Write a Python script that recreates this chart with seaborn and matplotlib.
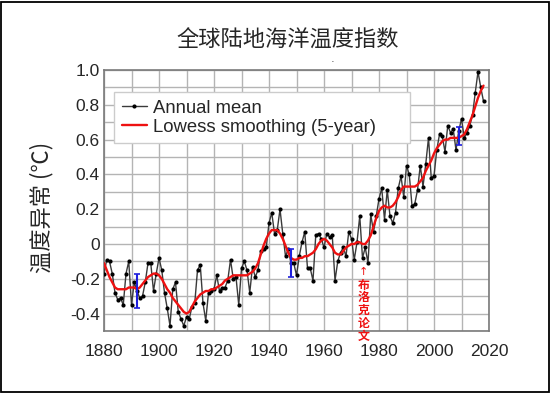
import matplotlib
matplotlib.use("Agg")
import matplotlib.pyplot as plt
import seaborn as sns
import pandas as pd
from matplotlib.ticker import MultipleLocator, FixedLocator
from matplotlib.patches import Rectangle

# ---------------- data ----------------
years = list(range(1880, 2019))
annual_mean = [
    -0.17, -0.09, -0.10, -0.17, -0.28, -0.32, -0.31, -0.35, -0.17, -0.10,   # 1880s
    -0.35, -0.22, -0.27, -0.31, -0.30, -0.22, -0.11, -0.11, -0.27, -0.17,   # 1890s
    -0.08, -0.15, -0.28, -0.37, -0.47, -0.26, -0.22, -0.39, -0.43, -0.47,   # 1900s
    -0.42, -0.43, -0.36, -0.34, -0.15, -0.12, -0.34, -0.44, -0.28, -0.27,   # 1910s
    -0.26, -0.18, -0.27, -0.25, -0.25, -0.21, -0.09, -0.20, -0.19, -0.35,   # 1920s
    -0.14, -0.10, -0.15, -0.28, -0.13, -0.19, -0.15, -0.04, -0.03, -0.02,   # 1930s
    0.12, 0.18, 0.06, 0.08, 0.20, 0.06, -0.07, -0.03, -0.11, -0.11,         # 1940s
    -0.18, -0.07, 0.01, 0.07, -0.14, -0.14, -0.21, 0.05, 0.06, 0.03,        # 1950s
    -0.02, 0.06, 0.04, 0.05, -0.21, -0.10, -0.05, -0.02, -0.07, 0.07,       # 1960s
    0.03, -0.09, 0.01, 0.16, -0.08, -0.02, -0.11, 0.17, 0.07, 0.16,         # 1970s
    0.26, 0.32, 0.14, 0.31, 0.16, 0.12, 0.18, 0.32, 0.39, 0.27,             # 1980s
    0.45, 0.40, 0.22, 0.23, 0.31, 0.45, 0.33, 0.46, 0.61, 0.38,             # 1990s
    0.39, 0.54, 0.63, 0.62, 0.53, 0.68, 0.64, 0.66, 0.54, 0.65,             # 2000s
    0.72, 0.61, 0.64, 0.68, 0.74, 0.87, 0.99, 0.90, 0.82,                   # 2010s
]
lowess_5yr = [
    -0.11, -0.15, -0.19, -0.22, -0.25, -0.26, -0.26, -0.26, -0.26, -0.25,
    -0.25, -0.25, -0.26, -0.25, -0.23, -0.21, -0.19, -0.18, -0.17, -0.17,
    -0.18, -0.20, -0.23, -0.26, -0.28, -0.31, -0.33, -0.35, -0.37, -0.39,
    -0.40, -0.39, -0.36, -0.33, -0.31, -0.29, -0.28, -0.27, -0.27, -0.26,
    -0.26, -0.25, -0.24, -0.23, -0.21, -0.20, -0.19, -0.18, -0.18, -0.18,
    -0.18, -0.18, -0.18, -0.17, -0.16, -0.14, -0.11, -0.06, -0.01, 0.03,
    0.06, 0.08, 0.08, 0.08, 0.06, 0.03, -0.01, -0.05, -0.08, -0.09,
    -0.09, -0.08, -0.08, -0.07, -0.07, -0.06, -0.05, -0.03, 0.00, 0.02,
    0.03, 0.02, 0.00, -0.02, -0.05, -0.06, -0.06, -0.04, -0.02, -0.01,
    0.00, 0.00, 0.01, 0.01, 0.00, 0.00, 0.02, 0.05, 0.10, 0.15,
    0.19, 0.21, 0.22, 0.21, 0.21, 0.22, 0.24, 0.27, 0.31, 0.33,
    0.33, 0.33, 0.33, 0.33, 0.34, 0.36, 0.38, 0.42, 0.45, 0.48,
    0.52, 0.55, 0.57, 0.59, 0.60, 0.60, 0.61, 0.61, 0.61, 0.61,
    0.62, 0.63, 0.66, 0.70, 0.74, 0.79, 0.84, 0.88, 0.91,
]
err_years = [1892, 1948, 2009]
err_center = [-0.27, -0.11, 0.62]
err_half = [0.10, 0.08, 0.05]

x_ticks = [1880, 1900, 1920, 1940, 1960, 1980, 2000, 2020]
y_ticks = [-0.4, -0.2, 0.0, 0.2, 0.4, 0.6, 0.8, 1.0]
y_tick_labels = ["-0.4", "-0.2", "0", "0.2", "0.4", "0.6", "0.8", "1.0"]

title = "全球陆地海洋温度指数"
y_label = "温度异常 (℃)"
note = "布\n洛\n克\n论\n文"
note_year = 1974.5

df = pd.DataFrame({"year": years, "annual": annual_mean, "lowess": lowess_5yr})

# ---------------- figure ----------------
sns.set_theme(style="white")
plt.rcParams["font.family"] = ["Liberation Sans", "Noto Sans CJK SC", "DejaVu Sans"]

W, H = 551, 394
fig = plt.figure(figsize=(W / 100, H / 100), dpi=100)
ax = fig.add_axes([104 / W, 1 - 331 / H, (489 - 104) / W, (331 - 70) / H])

sns.lineplot(data=df, x="year", y="annual", ax=ax, color="#3a3a3a", lw=1.0,
             marker="o", markersize=3.0, markeredgewidth=0, markerfacecolor="black",
             label="Annual mean", zorder=3)
sns.lineplot(data=df, x="year", y="lowess", ax=ax, color="#ee1111", lw=1.7,
             label="Lowess smoothing (5-year)", zorder=4)
ax.errorbar(err_years, err_center, yerr=err_half, fmt="none", ecolor="#1f1fdd",
            elinewidth=1.5, capsize=2.5, capthick=1.2, zorder=5)

ax.set_xlim(1880, 2020)
ax.set_ylim(-0.5, 1.0)
ax.xaxis.set_major_locator(FixedLocator(x_ticks))
ax.xaxis.set_minor_locator(MultipleLocator(10))
ax.yaxis.set_major_locator(FixedLocator(y_ticks))
ax.yaxis.set_minor_locator(MultipleLocator(0.1))
ax.set_yticklabels(y_tick_labels)
ax.grid(True, which="both", color="#b4b4b4", lw=1.0, zorder=0)
ax.set_axisbelow(True)
ax.tick_params(which="both", length=0, labelsize=12.5)
ax.tick_params(axis="x", pad=9)
ax.tick_params(axis="y", pad=3)
ax.set_xlabel("")
ax.set_ylabel("")
for s in ax.spines.values():
    s.set_color("#7a7a7a")
    s.set_linewidth(1.2)

leg = ax.legend(loc="upper left", bbox_to_anchor=(0.026, 0.72, 0.769, 0.196),
                mode="expand", borderaxespad=0, fontsize=13.3,
                frameon=True, fancybox=False, framealpha=1, edgecolor="#cccccc",
                handlelength=1.35, handletextpad=0.35, labelspacing=0.1,
                borderpad=0.42)
leg.get_frame().set_linewidth(1.0)

# annotation: Broecker paper
ax.text(note_year, -0.161, "↑", ha="center", va="center",
        color="#ee1111", fontsize=8, family=["DejaVu Sans"])
ax.text(note_year, -0.199, note, ha="center", va="top", color="#ee1111",
        fontsize=8.6, linespacing=0.98, fontweight="bold",
        family=["Noto Sans CJK SC", "DejaVu Sans"])

fig.text(288 / W, 1 - 40 / H, title, ha="center", va="center", fontsize=16,
         family=["Noto Sans CJK SC", "DejaVu Sans"])
fig.text(42 / W, 1 - 207 / H, y_label, ha="center", va="center", rotation=90,
         fontsize=16, family=["Noto Sans CJK SC", "DejaVu Sans"])
fig.text(333 / W, 1 - 62 / H, "·", ha="center", va="center", fontsize=8)

fig.patches.append(Rectangle((1 / W, 2 / H), 548 / W, 390 / H, transform=fig.transFigure,
                             fill=False, ec="black", lw=1.3))

fig.savefig("out.png", dpi=100)
